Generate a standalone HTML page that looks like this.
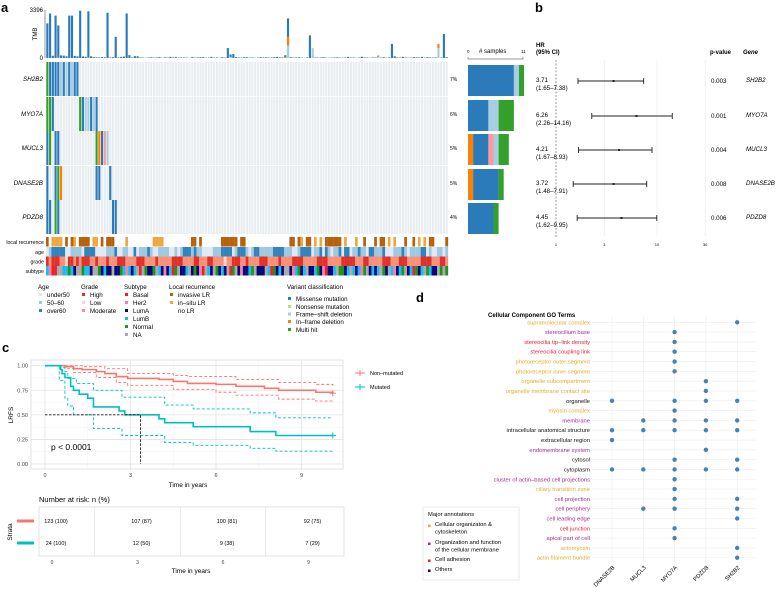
<!DOCTYPE html>
<html><head><meta charset="utf-8"><style>
html,body{margin:0;padding:0;background:#fff;}
svg{display:block;font-family:"Liberation Sans",Arial,sans-serif;}
</style></head><body>
<svg id="fig" width="778" height="592" viewBox="0 0 778 592" xmlns="http://www.w3.org/2000/svg">
<g font-weight="bold" font-size="13">
<text x="1" y="12">a</text>
<text x="535" y="12">b</text>
<text x="2" y="352">c</text>
<text x="416" y="302">d</text>
</g>
<g id="pa"></g>
<g id="pb"></g>
<g id="pc"></g>
<g id="pd"></g>
</svg>
<script>
// ---------- DATA ----------
const genes = ['SH2B2','MYO7A','MUCL3','DNASE2B','PDZD8'];
const genePct = ['7%','6%','5%','5%','4%'];
const nSamples = 147;
// mutations: [column, type]  M missense, F frameshift, I inframe, G multi, P other(pink)
const mutSH2B2 = [[0,'G'],[1,'M'],[2,'M'],[3,'M'],[4,'M'],[5,'F'],[6,'M'],[7,'F'],[8,'M'],[9,'F'],[10,'M'],[11,'M']];
const mutMYO7A = [[0,'G'],[1,'G'],[2,'M'],[12,'G'],[13,'M'],[14,'F'],[15,'F'],[16,'M'],[17,'F'],[18,'M']];
const mutMUCL3 = [[0,'M'],[1,'G'],[3,'M'],[4,'M'],[18,'G'],[19,'I'],[20,'M'],[21,'P'],[22,'F']];
const mutDNASE2B = [[0,'M'],[3,'M'],[4,'G'],[5,'I'],[18,'M'],[19,'M'],[23,'M']];
const mutPDZD8 = [[0,'M'],[1,'M'],[3,'G'],[4,'M'],[24,'M'],[25,'M']];
const tmbTotal = [2450,3150,160,3000,2300,180,170,120,3000,3000,150,120,3350,110,90,3300,120,60,50,40,60,50,3200,40,60,1500,40,80,100,3150,200,40,130,120,40,30,20,40,50,30,40,60,20,50,30,80,40,60,30,40,
 40,30,20,60,30,40,50,60,20,30,80,30,40,20,60,30,700,250,280,60,40,30,60,50,30,40,20,30,60,40,50,30,40,60,80,50,40,200,2800,60,30,40,50,30,20,40,1600,200,40,30,
 40,60,30,20,30,40,50,30,20,40,80,30,40,20,30,90,40,30,20,40,30,100,30,60,20,40,1000,120,40,30,80,40,20,30,60,50,40,80,30,60,40,30,40,20,30,1700,60,40,30,60,20,40,30];
const tmbOrange = {88:600,143:300,87:80,121:80,4:60,15:40};
const tmbLight  = {88:900,143:700,97:700,121:100,67:80};
const lrTrack  = "i.ssss.i.is.iiii.ss.i.iii....s.........ssss..........ii.i.......iiiiii.ii................ii.is.ii.s.s.iiiiii.s...s..i...i.ii.s.s...i..i.s.s.ii....";
const ageTrack = "umooooouummmmuoooouuuummmouummuuoummmomuummmmuumumooomommuuuummmooooumooomumoommmmmoooommmuumooooummouomummouooummommuoommmouuummmomummmmooumuumm";
const gradeTrack = "HMHHHMMLHHMHMHHHMMHMMMHMMMHHHMMMMHHHMMMMHMMMMMHHHHMMMMHHMMMHHMMMMLMMHHHMMHMMMMHHHMMMMHMMMMHHHHMMMMMHHHHMMMMMHHHHHMMMHHMMMMMHHHMMMHHHMMMMMHHHHMMMHHM";
const subTrack = "bHBBXXbbNbAXXNbbAXXNAbAAXAANbHbAbXBXNAANXbAHAbBNXAAbXANAHBXbAXNAbAXBNXAHAAbNXAAAXbBNAbAXXAHbNAbXAAbNAHBAAbXNNAbXbAbHNXAbAbXNAXbHAbNXAbBNAbXNbAAXNXN";
// forest
const hr = [3.71,6.26,4.21,3.72,4.45];
const hrLo = [1.65,2.26,1.67,1.48,1.62];
const hrHi = [7.38,14.16,8.93,7.91,9.95];
const pvals = ['0.003','0.001','0.004','0.008','0.006'];
const hrTicks = [1,3,10,30];
// side bar counts: missense, frameshift, other, inframe, multi
const sideMissense = [9,4,3,5,5];
const sideFrameshift = [1,2,1,0,0];
const sideOther = [0,0,1,0,0];
const sideInframe = [0,0,1,1,0];
const sideMulti = [1,3,2,1,1];
// KM
const nonT = [0,0.7,1.0,1.3,1.8,2.1,2.5,2.9,4.0,4.5,5.0,6.0,6.7,7.7,8.2,9.5,10.1];
const nonS = [1,0.99,0.97,0.96,0.94,0.92,0.89,0.87,0.86,0.84,0.82,0.81,0.79,0.77,0.75,0.73,0.72];
const nonUpT = [0,1.3,2.1,2.9,4.5,5.0,6.7,8.2,9.5,10.1];
const nonUpS = [1,0.99,0.97,0.92,0.90,0.89,0.86,0.83,0.81,0.79];
const nonLoT = [0,0.7,1.0,1.8,2.5,2.9,4.5,6.0,6.7,8.2,9.5,10.1];
const nonLoS = [1,0.97,0.93,0.88,0.83,0.80,0.76,0.73,0.70,0.66,0.64,0.62];
const mutT = [0,0.55,0.6,0.7,0.9,1.0,1.2,1.5,1.7,2.6,2.8,4.0,4.2,5.2,7.2,8.1,10.1];
const mutS = [1,0.96,0.92,0.88,0.79,0.75,0.71,0.67,0.58,0.54,0.50,0.46,0.42,0.38,0.33,0.29,0.29];
const mutUpT = [0,0.55,0.7,0.8,1.1,1.7,2.7,4.2,5.2,7.2,8.1,10.1];
const mutUpS = [1,0.98,0.94,0.87,0.82,0.75,0.68,0.60,0.56,0.52,0.47,0.47];
const mutLoT = [0,0.5,0.7,0.8,1.0,1.7,2.7,4.2,5.2,7.2,8.1,10.1];
const mutLoS = [1,0.85,0.67,0.59,0.50,0.36,0.29,0.22,0.19,0.16,0.13,0.13];
const kmXTicks = [0,3,6,9];
const kmYTicks = [0,0.25,0.5,0.75,1.0];
const kmYLabels = ['0.00','0.25','0.50','0.75','1.00'];
const riskNon = ['123 (100)','107 (87)','100 (81)','92 (75)'];
const riskMut = ['24 (100)','12 (50)','9 (38)','7 (29)'];
// GO
const goGenes = ['DNASE2B','MUCL3','MYO7A','PDZD8','SH2B2'];
const goTerms = ['supramolecular complex','stereocilium base','stereocilia tip\u2013link density','stereocilia coupling link','photoreceptor outer segment','photoreceptor inner segment','organelle subcompartment','organelle membrane contact site','organelle','myosin complex','membrane','intracellular anatomical structure','extracellular region','endomembrane system','cytosol','cytoplasm','cluster of actin\u2013based cell projections','ciliary transition zone','cell projection','cell periphery','cell leading edge','cell junction','apical part of cell','actomyosin','actin filament bundle'];
const goCat = ['O','P','R','R','O','O','O','O','K','O','P','K','K','P','K','K','P','O','P','P','P','R','P','O','O'];
const goHits = [[4],[2],[2],[2],[2],[2],[3],[3],[0,2,3,4],[2],[1,2,3,4],[0,1,2,3,4],[0],[3],[2,4],[0,1,2,3,4],[2],[2],[2,4],[1,2,4],[4],[2],[2],[4],[4]];

// ---------- HELPERS ----------
const NS='http://www.w3.org/2000/svg';
function mk(tag, attrs, parent, txt){const e=document.createElementNS(NS,tag);for(const k in attrs)e.setAttribute(k,attrs[k]);if(txt!==undefined)e.textContent=txt;parent.appendChild(e);return e;}
const VC={M:'#2b7bba',F:'#a6cee3',I:'#ff7f00',G:'#33a02c',P:'#fb9a99',N:'#b2df8a'};
let el;

// ---------- PANEL A ----------
const pa=document.getElementById('pa');
const hx0=46, hx1=448, colW=(hx1-hx0)/nSamples;
const tmbY=v=>58-v/3396*48;
el=mk('line',{x1:45,y1:10,x2:45,y2:58,stroke:'#333','stroke-width':0.5},pa);


el=mk('text',{x:43,y:12,'font-size':6,'text-anchor':'end'},pa,'3396');


el=mk('text',{x:43,y:60,'font-size':6,'text-anchor':'end'},pa,'0');


el=mk('text',{x:0,y:0,'font-size':6,'text-anchor':'middle',transform:'translate(37,34) rotate(-90)'},pa,'TMB');


for(let i=0;i<nSamples;i++){
  const tot=tmbTotal[i]||0, o=tmbOrange[i]||0, l=tmbLight[i]||0;
  const x=hx0+i*colW+0.3, w=colW-0.6;
  el=mk('rect',{x:x,y:tmbY(tot),width:w,height:58-tmbY(tot),fill:VC.M},pa);
  
  
  if(l){el=mk('rect',{x:x,y:tmbY(l),width:w,height:58-tmbY(l),fill:VC.F},pa);
  
  }
  if(o){el=mk('rect',{x:x,y:tmbY(l+o),width:w,height:58-tmbY(o),fill:VC.I},pa);
  
  }
}
const rowTop=[62,97,131,166,200], rowH=34;
const muts=[mutSH2B2,mutMYO7A,mutMUCL3,mutDNASE2B,mutPDZD8];
genes.forEach((g,gi)=>{
  const y=rowTop[gi];
  for(let i=0;i<nSamples;i++){
    el=mk('rect',{x:hx0+i*colW+0.3,y:y,width:colW-0.6,height:rowH,fill:'#e7edf1'},pa);
    
    
  }
  muts[gi].forEach(m=>{
    el=mk('rect',{x:hx0+m[0]*colW+0.3,y:y,width:colW-0.6,height:rowH,fill:VC[m[1]]},pa);
    
    
  });
  el=mk('text',{x:43,y:y+rowH/2+2,'font-size':6.3,'font-style':'italic','text-anchor':'end'},pa,g);
  
  
  el=mk('text',{x:450,y:y+rowH/2+2,'font-size':5},pa,genePct[gi]);
  
  
  // side bars
  const sc=5.1; let sx=468; const by=y+3, bh=rowH-3;
  const parts=[[sideInframe[gi],VC.I],[sideMissense[gi],VC.M],[sideOther[gi],VC.P],[sideFrameshift[gi],VC.F],[sideMulti[gi],VC.G]];
  parts.forEach(p=>{ if(p[0]>0){
    el=mk('rect',{x:sx,y:by,width:p[0]*sc,height:bh,fill:p[1]},pa);
    
    
    sx+=p[0]*sc;}});
});
el=mk('path',{d:'M468,57 V59 H523 V57',fill:'none',stroke:'#333','stroke-width':0.5},pa);


el=mk('text',{x:467,y:53,'font-size':4.5},pa,'0');


el=mk('text',{x:521,y:53,'font-size':4.5},pa,'11');


el=mk('text',{x:479,y:53,'font-size':6},pa,'# samples');


// annotation tracks
const trackCols={
 lr:{i:'#b8600b',s:'#f0a742','.':'#ffffff'},
 age:{u:'#deebf7',m:'#9ecae1',o:'#3182bd'},
 grade:{H:'#e2312b',L:'#fdd9c8',M:'#f8917a'},
 sub:{B:'#e8242a',H:'#f37fb3',A:'#05077a',b:'#1cbcf0',N:'#1c961c',X:'#ababab'}};
const tracks=[['local recurrence',lrTrack,'lr',237],['age',ageTrack,'age',247],['grade',gradeTrack,'grade',256.5],['subtype',subTrack,'sub',266]];
tracks.forEach(t=>{
  for(let i=0;i<nSamples;i++){
    const c=t[1][i%t[1].length];
    el=mk('rect',{x:hx0+i*colW,y:t[3],width:colW+0.15,height:9.5,fill:trackCols[t[2]][c]||'#fff'},pa);
    
    
  }
  el=mk('text',{x:44,y:t[3]+7,'font-size':5.3,'text-anchor':'end'},pa,t[0]);
  
  
});
// legends
function legend(x,title,items,ty,step){
  el=mk('text',{x:x,y:ty,'font-size':6.2},pa,title);
  
  
  items.forEach((it,k)=>{
    const y=ty+(step?step[k]:8+k*8);
    if(it[1]){el=mk('rect',{x:x+1,y:y-4,width:3,height:3,fill:it[1]},pa);
    
    }
    el=mk('text',{x:x+9,y:y,'font-size':6.2},pa,it[0]);
    
    
  });
}
legend(38,'Age',[['under50','#deebf7'],['50\u201360','#9ecae1'],['over60','#3182bd']],289);
legend(81,'Grade',[['High','#e2312b'],['Low','#fdd9c8'],['Moderate','#f8917a']],289);
legend(124,'Subtype',[['Basal','#e8242a'],['Her2','#f37fb3'],['LumA','#05077a'],['LumB','#1cbcf0'],['Normal','#1c961c'],['NA','#ababab']],289);
legend(169,'Local recurrence',[['invasive LR','#b8600b'],['in\u2013situ LR','#f0a742'],['no LR',null]],289);
legend(287,'Variant classification',[['Missense mutation',VC.M],['Nonsense mutation',VC.N],['Frame\u2013shift deletion',VC.F],['In\u2013frame deletion',VC.I],['Multi hit',VC.G]],289,[12,20,27.5,35,43]);

// ---------- PANEL B ----------
const pb=document.getElementById('pb');
const fx=v=>556+Math.log10(v)*101;
const fy=[81,116,150,184,218];
hrTicks.forEach(t=>{
  if(t!==1){el=mk('line',{x1:fx(t),y1:60,x2:fx(t),y2:236,stroke:'#e6e6e6','stroke-width':0.6},pb);
  
  }
  el=mk('text',{x:fx(t),y:246,'font-size':4,'text-anchor':'middle'},pb,String(t));
  
  
});
el=mk('line',{x1:fx(1),y1:60,x2:fx(1),y2:238,stroke:'#555','stroke-width':0.6,'stroke-dasharray':'2,1.5'},pb);


el=mk('text',{x:536,y:47,'font-size':6,'font-weight':'bold'},pb,'HR');


el=mk('text',{x:536,y:54,'font-size':6,'font-weight':'bold'},pb,'(95% CI)');


el=mk('text',{x:710,y:54,'font-size':6,'font-weight':'bold'},pb,'p-value');


el=mk('text',{x:743,y:54,'font-size':6,'font-weight':'bold','font-style':'italic'},pb,'Gene');


genes.forEach((g,i)=>{
  const y=fy[i];
  el=mk('line',{x1:fx(hrLo[i]),y1:y,x2:fx(hrHi[i]),y2:y,stroke:'#222','stroke-width':0.9},pb);
  
  
  el=mk('line',{x1:fx(hrLo[i]),y1:y-3,x2:fx(hrLo[i]),y2:y+3,stroke:'#222','stroke-width':0.9},pb);
  
  
  el=mk('line',{x1:fx(hrHi[i]),y1:y-3,x2:fx(hrHi[i]),y2:y+3,stroke:'#222','stroke-width':0.9},pb);
  
  
  el=mk('rect',{x:fx(hr[i])-1,y:y-1,width:2,height:2,fill:'#222'},pb);
  
  
  el=mk('text',{x:536,y:y+1,'font-size':6.2},pb,hr[i].toFixed(2));
  
  
  el=mk('text',{x:536,y:y+9,'font-size':6.2},pb,'('+hrLo[i].toFixed(2)+'\u2013'+hrHi[i].toFixed(2)+')');
  
  
  el=mk('text',{x:711,y:y+2,'font-size':6.2},pb,pvals[i]);
  
  
  el=mk('text',{x:746,y:y+1,'font-size':6.2,'font-style':'italic'},pb,g);
  
  
});

// ---------- PANEL C ----------
const pc=document.getElementById('pc');
const kx=t=>45+t*28.5, ky=s=>464-s*98.3;
const kl=31,kr=343,kt=360,kb=469;
[0.125,0.375,0.625,0.875].forEach(s=>{el=mk('line',{x1:kl,y1:ky(s),x2:kr,y2:ky(s),stroke:'#f0f0f0','stroke-width':0.5},pc);

});
[1.5,4.5,7.5].forEach(t=>{el=mk('line',{x1:kx(t),y1:kt,x2:kx(t),y2:kb,stroke:'#f0f0f0','stroke-width':0.5},pc);

});
kmYTicks.forEach((s,k)=>{
  el=mk('line',{x1:kl,y1:ky(s),x2:kr,y2:ky(s),stroke:'#e3e3e3','stroke-width':0.8},pc);
  
  
  el=mk('text',{x:28,y:ky(s)+2,'font-size':5.5,'text-anchor':'end',fill:'#444'},pc,kmYLabels[k]);
  
  
});
kmXTicks.forEach(t=>{
  el=mk('line',{x1:kx(t),y1:kt,x2:kx(t),y2:kb,stroke:'#e3e3e3','stroke-width':0.8},pc);
  
  
  el=mk('text',{x:kx(t),y:477,'font-size':5.5,'text-anchor':'middle',fill:'#444'},pc,String(t));
  
  
});
el=mk('rect',{x:kl,y:kt,width:kr-kl,height:kb-kt,fill:'none',stroke:'#d0d0d0','stroke-width':0.6},pc);


function stepPath(T,S){let d='M'+kx(T[0])+','+ky(S[0]);for(let i=1;i<T.length;i++){d+=' H'+kx(T[i])+' V'+ky(S[i]);}return d;}
[[nonUpT,nonUpS,'#f8766d',1,'km-nonmutated-upper-ci'],[nonLoT,nonLoS,'#f8766d',1,'km-nonmutated-lower-ci'],[mutUpT,mutUpS,'#00bfc4',1,'km-mutated-upper-ci'],[mutLoT,mutLoS,'#00bfc4',1,'km-mutated-lower-ci'],[nonT,nonS,'#f8766d',0,'km-nonmutated-curve'],[mutT,mutS,'#00bfc4',0,'km-mutated-curve']].forEach(c=>{
  el=mk('path',{d:stepPath(c[0],c[1]),fill:'none',stroke:c[2],'stroke-width':c[3]?0.9:1.6,'stroke-dasharray':c[3]?'3,2':'none'},pc);
  
  
});
[[nonT,nonS,'#f8766d'],[mutT,mutS,'#00bfc4']].forEach(c=>{
  const x=kx(c[0][c[0].length-1]), y=ky(c[1][c[1].length-1]);
  el=mk('path',{d:`M${x-3},${y}H${x+3}M${x},${y-3}V${y+3}`,stroke:c[2],'stroke-width':1},pc);
  
  
});
el=mk('path',{d:`M${kx(0)},${ky(0.5)} H${kx(3.35)} V${ky(0)}`,fill:'none',stroke:'#222','stroke-width':0.9,'stroke-dasharray':'2.5,1.5'},pc);


el=mk('text',{x:51,y:450,'font-size':8.5},pc,'p < 0.0001');


el=mk('text',{x:0,y:0,'font-size':6.5,'text-anchor':'middle',transform:'translate(13,415) rotate(-90)'},pc,'LRFS');


el=mk('text',{x:188,y:487,'font-size':6.5,'text-anchor':'middle'},pc,'Time in years');


[['Non\u2013mutated','#f8766d',373],['Mutated','#00bfc4',387]].forEach(l=>{
  el=mk('path',{d:`M355,${l[2]}H365M360,${l[2]-3}V${l[2]+3}`,stroke:l[1],'stroke-width':1},pc);
  
  
  el=mk('text',{x:370,y:l[2]+2,'font-size':5.5},pc,l[0]);
  
  
});
// risk table
el=mk('text',{x:39,y:502,'font-size':7.5},pc,'Number at risk: n (%)');


const rx=t=>52+t*28.5;
[1.5,4.5,7.5].forEach(t=>{el=mk('line',{x1:rx(t),y1:507,x2:rx(t),y2:556,stroke:'#ddd','stroke-width':0.6},pc);

});
el=mk('rect',{x:39,y:507,width:305,height:49,fill:'none',stroke:'#d0d0d0','stroke-width':0.6},pc);


kmXTicks.forEach((t,k)=>{
  el=mk('text',{x:rx(t)+4,y:523,'font-size':5.5,'text-anchor':'middle'},pc,riskNon[k]);
  
  
  el=mk('text',{x:rx(t)+4,y:545,'font-size':5.5,'text-anchor':'middle'},pc,riskMut[k]);
  
  
  el=mk('text',{x:rx(t),y:564,'font-size':5,'text-anchor':'middle',fill:'#444'},pc,String(t));
  
  
});
el=mk('line',{x1:17,y1:521,x2:34,y2:521,stroke:'#f8766d','stroke-width':3},pc);


el=mk('line',{x1:17,y1:543,x2:34,y2:543,stroke:'#00bfc4','stroke-width':3},pc);


el=mk('text',{x:0,y:0,'font-size':6.5,'text-anchor':'middle',transform:'translate(12,532) rotate(-90)'},pc,'Strata');


el=mk('text',{x:191,y:573,'font-size':6.5,'text-anchor':'middle'},pc,'Time in years');



// ---------- PANEL D ----------
const pd=document.getElementById('pd');
const CAT={O:'#e5ad22',P:'#a52a8c',R:'#e4202a',K:'#111'};
const gx=i=>612+i*31.3, gy=r=>322.3+r*9.81;
el=mk('text',{x:488,y:317,'font-size':6,'font-weight':'bold'},pd,'Cellular Component GO Terms');


goGenes.forEach((g,i)=>{
  el=mk('line',{x1:gx(i),y1:316,x2:gx(i),y2:562,stroke:'#ececec','stroke-width':0.6},pd);
  
  
  el=mk('text',{x:0,y:0,'font-size':5.8,'text-anchor':'end',transform:`translate(${gx(i)+3},568) rotate(-45)`},pd,g);
  
  
});
goTerms.forEach((t,r)=>{
  el=mk('line',{x1:592,y1:gy(r),x2:756,y2:gy(r),stroke:'#ececec','stroke-width':0.6},pd);
  
  
  el=mk('text',{x:590,y:gy(r)+2,'font-size':5.8,'text-anchor':'end',fill:CAT[goCat[r]]},pd,t);
  
  
  goHits[r].forEach(c=>{
    el=mk('circle',{cx:gx(c),cy:gy(r),r:2.2,fill:'#4682b4'},pd);
    
    
  });
});
el=mk('rect',{x:423,y:507,width:96,height:73,fill:'#fff',stroke:'#ddd','stroke-width':0.6},pd);


el=mk('text',{x:428,y:516,'font-size':5.8},pd,'Major annotations');


[[['Cellular organizaton &','cytoskeleton'],'O',527],[['Organization and function','of the cellular membrane'],'P',545],[['Cell adhesion'],'R',562],[['Others'],'K',572]].forEach(l=>{
  el=mk('rect',{x:428,y:l[2]-2.5,width:2.5,height:2.5,fill:CAT[l[1]]},pd);
  
  
  l[0].forEach((s,k)=>{
    el=mk('text',{x:435,y:l[2]-1+k*7.5,'font-size':5.8},pd,s);
    
    
  });
});
</script>
</body></html>
